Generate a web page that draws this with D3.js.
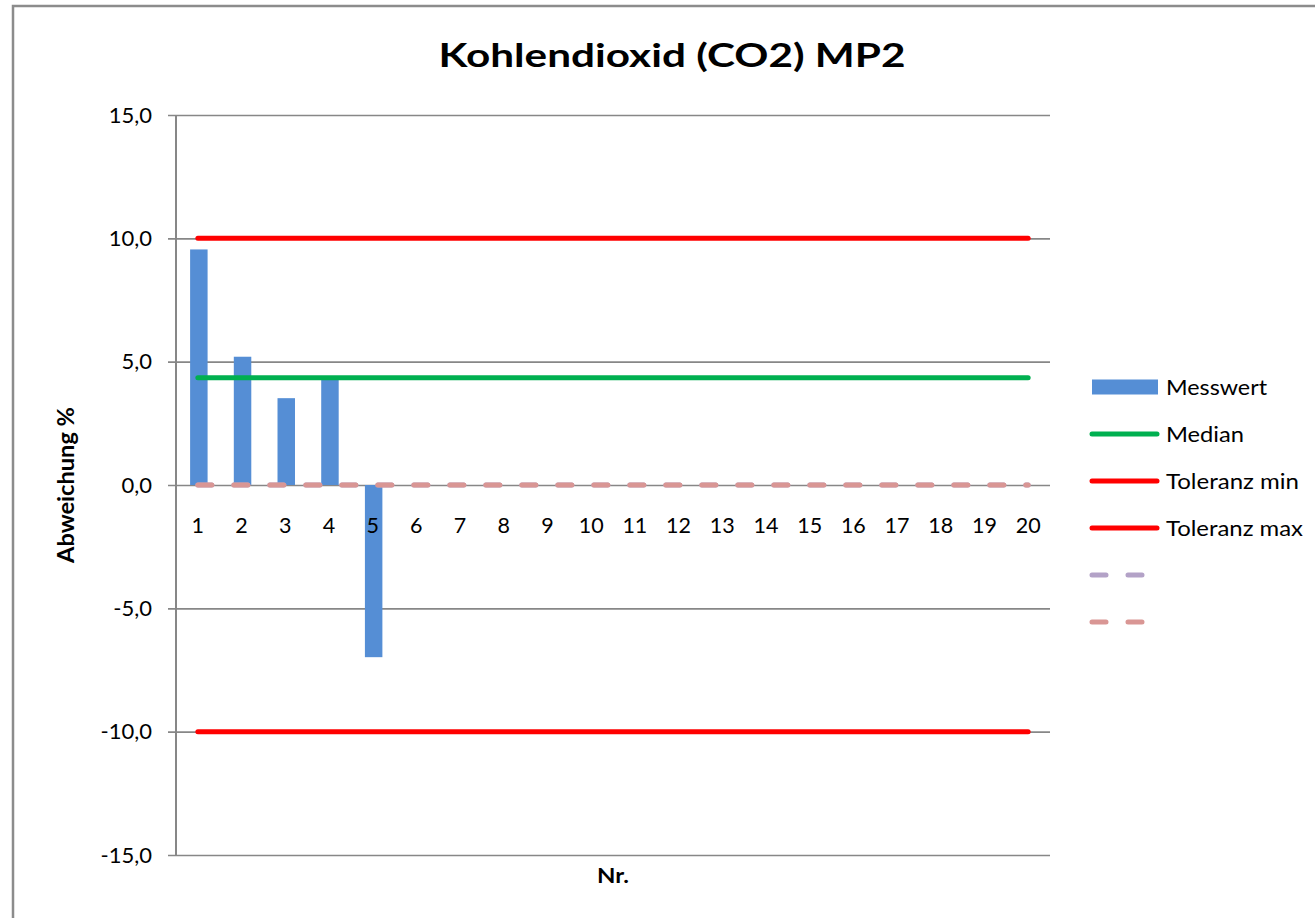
<!DOCTYPE html>
<html>
<head>
<meta charset="utf-8">
<script src="https://cdn.jsdelivr.net/npm/d3@7"></script>
<style>
  html, body { margin: 0; padding: 0; background: #fff; }
  svg { display: block; font-family: Lato, "Open Sans", sans-serif; }
</style>
</head>
<body>
<svg id="chart" width="1315" height="918"></svg>
<script>
// dati
const categories = d3.range(1, 21).map(String)
const messwert = [9.55, 5.2, 3.52, 4.35, -6.98]
const median = categories.map(() => 4.35)
const tolMin = categories.map(() => -10)
const tolMax = categories.map(() => 10)
const purpleSeries = categories.map(() => 0)
const pinkSeries = categories.map(() => 0)
const yTicks = [15, 10, 5, 0, -5, -10, -15]

const svg = d3.select('#chart')

// cornice esterna del grafico
svg.append('rect')
  .attr('x', 13).attr('y', 6)
  .attr('width', 1400).attr('height', 1000)
  .attr('fill', 'none')
  .attr('stroke', '#8c8c8c')
  .attr('stroke-width', 2.5)

const plot = { left: 176, right: 1050, top: 115, bottom: 855 }

const x = d3.scaleBand()
  .domain(categories)
  .range([plot.left, plot.right])

const y = d3.scaleLinear()
  .domain([-15, 15])
  .range([plot.bottom, plot.top])

const fmt = d => d3.format('.1f')(d).replace('.', ',').replace('−', '-')

// griglia + etichette asse y
const yAxis = svg.append('g')
  .attr('transform', `translate(${plot.left - 8}, 0)`)
  .call(d3.axisLeft(y)
    .tickValues(yTicks)
    .tickSize(-(plot.right - plot.left + 8))
    .tickPadding(16)
    .tickFormat(fmt))
yAxis.select('.domain').remove()
yAxis.selectAll('.tick line')
  .attr('stroke', '#878787')
  .attr('stroke-width', 1.6)
yAxis.selectAll('.tick text')
  .attr('fill', '#000')
  .style('font-size', '22px')
  .style('font-family', 'Lato, sans-serif')

// linea verticale dell'asse
svg.append('line')
  .attr('x1', plot.left).attr('x2', plot.left)
  .attr('y1', y(15)).attr('y2', y(-15))
  .attr('stroke', '#878787')
  .attr('stroke-width', 2)

// barre Messwert
const barW = x.bandwidth() * 0.4
svg.append('g')
  .selectAll('rect')
  .data(messwert)
  .join('rect')
  .attr('x', (d, i) => x(categories[i]) + x.bandwidth() / 2 - barW / 2 + 1)
  .attr('y', d => y(Math.max(0, d)))
  .attr('width', barW)
  .attr('height', d => Math.abs(y(d) - y(0)))
  .attr('fill', '#558ED5')

const cx = i => x(categories[i]) + x.bandwidth() / 2
const line = d3.line()
  .x((d, i) => cx(i))
  .y(d => y(d))

// serie a linee
const lineSeries = [
  { values: purpleSeries, color: '#B3A2C7', dash: '14,22' },
  { values: pinkSeries, color: '#D99694', dash: '14,22' },
  { values: median, color: '#00B050', dash: null },
  { values: tolMin, color: '#FF0000', dash: null },
  { values: tolMax, color: '#FF0000', dash: null }
]
svg.append('g')
  .selectAll('path')
  .data(lineSeries)
  .join('path')
  .attr('d', d => line(d.values))
  .attr('fill', 'none')
  .attr('stroke', d => d.color)
  .attr('stroke-width', 5)
  .attr('stroke-linecap', 'round')
  .attr('stroke-dasharray', d => d.dash)

// etichette categorie
const xAxis = svg.append('g')
  .attr('transform', `translate(0, ${y(0)})`)
  .call(d3.axisBottom(x).tickSize(0).tickPadding(33))
xAxis.select('.domain').remove()
xAxis.selectAll('.tick text')
  .attr('fill', '#000')
  .style('font-size', '21.5px')
  .style('font-family', 'Lato, sans-serif')

// titolo
svg.append('text')
  .attr('x', 672)
  .attr('y', 67)
  .attr('text-anchor', 'middle')
  .attr('textLength', 467)
  .attr('lengthAdjust', 'spacingAndGlyphs')
  .style('font-size', '32px')
  .style('font-weight', 'bold')
  .text('Kohlendioxid (CO2) MP2')

// titolo asse y
svg.append('text')
  .attr('transform', 'rotate(-90)')
  .attr('x', -485)
  .attr('y', 74)
  .attr('text-anchor', 'middle')
  .attr('textLength', 156)
  .attr('lengthAdjust', 'spacingAndGlyphs')
  .style('font-size', '22px')
  .style('font-weight', 'bold')
  .text('Abweichung %')

// titolo asse x
svg.append('text')
  .attr('x', 613)
  .attr('y', 883)
  .attr('text-anchor', 'middle')
  .attr('textLength', 32)
  .attr('lengthAdjust', 'spacingAndGlyphs')
  .style('font-size', '21px')
  .style('font-weight', 'bold')
  .text('Nr.')

// legenda
const legendItems = [
  { name: 'Messwert', type: 'bar', color: '#558ED5', len: 101 },
  { name: 'Median', type: 'line', color: '#00B050', len: 78 },
  { name: 'Toleranz min', type: 'line', color: '#FF0000', len: 133 },
  { name: 'Toleranz max', type: 'line', color: '#FF0000', len: 137 },
  { name: '', type: 'dash', color: '#B3A2C7', len: null },
  { name: '', type: 'dash', color: '#D99694', len: null }
]
const legend = svg.append('g')
  .selectAll('g')
  .data(legendItems)
  .join('g')
  .attr('transform', (d, i) => `translate(1092, ${387 + i * 47})`)

legend.filter(d => d.type === 'bar')
  .append('rect')
  .attr('x', 0).attr('y', -7.5)
  .attr('width', 66).attr('height', 15)
  .attr('fill', d => d.color)

legend.filter(d => d.type !== 'bar')
  .append('line')
  .attr('x1', 0).attr('x2', 65)
  .attr('stroke', d => d.color)
  .attr('stroke-width', 5)
  .attr('stroke-linecap', 'round')
  .attr('stroke-dasharray', d => d.type === 'dash' ? '14,22' : null)

legend.filter(d => d.name)
  .append('text')
  .attr('x', 74)
  .attr('y', 8)
  .attr('textLength', d => d.len)
  .attr('lengthAdjust', 'spacingAndGlyphs')
  .style('font-size', '21px')
  .text(d => d.name)
</script>
</body>
</html>
